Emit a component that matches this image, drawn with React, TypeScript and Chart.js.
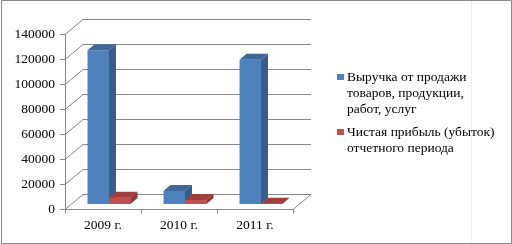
import React, { useEffect, useRef } from "react";
import { Chart, registerables } from "chart.js";

Chart.register(...registerables);

// ---- data ----
const categories = ["2009 г.", "2010 г.", "2011 г."];
const revenue = [123000, 10500, 115500];
const netProfit = [5000, 3300, 300];
const seriesNames = [
  "Выручка от продажи товаров, продукции, работ, услуг",
  "Чистая прибыль (убыток) отчетного периода",
];
const legendLines = [
  ["Выручка от продажи", "товаров, продукции,", "работ, услуг"],
  ["Чистая прибыль (убыток)", "отчетного периода"],
];
const yMin = 0;
const yMax = 140000;
const yStep = 20000;

// ---- styles ----
const FRONT = ["#4F81BD", "#C0504D"];
const SIDE = ["#385D8A", "#8C3836"];
const TOP = ["#3F6899", "#9E3F3C"];
const GRID = "#868686";
const FONT = '"Liberation Serif", "Times New Roman", serif';
const FSIZE = 13.5;

const WALL = { dx: 18, dy: -15 };
const SHIFT = { dx: 6, dy: -5 };
const DEPTH = { dx: 7, dy: -6 };

function drawFaces(ctx: any, el: any, i: number) {
  const { x, y, base, width } = el.getProps(["x", "y", "base", "width"], true);
  const l = x - width / 2;
  const r = x + width / 2;
  const t = Math.min(y, base);
  const b = Math.max(y, base);
  ctx.fillStyle = TOP[i];
  ctx.beginPath();
  ctx.moveTo(l, t);
  ctx.lineTo(r, t);
  ctx.lineTo(r + DEPTH.dx, t + DEPTH.dy);
  ctx.lineTo(l + DEPTH.dx, t + DEPTH.dy);
  ctx.closePath();
  ctx.fill();
  ctx.fillStyle = SIDE[i];
  ctx.beginPath();
  ctx.moveTo(r, t);
  ctx.lineTo(r + DEPTH.dx, t + DEPTH.dy);
  ctx.lineTo(r + DEPTH.dx, b + DEPTH.dy);
  ctx.lineTo(r, b);
  ctx.closePath();
  ctx.fill();
}

const threeD = {
  id: "threeD",
  beforeDraw(chart: any) {
    const ctx = chart.ctx;
    ctx.save();
    ctx.fillStyle = "#fff";
    ctx.fillRect(0, 0, chart.width, chart.height);
    ctx.strokeStyle = "#ffff66";
    ctx.lineWidth = 1;
    ctx.beginPath();
    ctx.moveTo(471.5, 0);
    ctx.lineTo(471.5, chart.height);
    ctx.stroke();
    ctx.strokeStyle = "#898989";
    ctx.beginPath();
    ctx.moveTo(1.5, 0.5);
    ctx.lineTo(511.5, 0.5);
    ctx.lineTo(511.5, 243.5);
    ctx.lineTo(1.5, 243.5);
    ctx.closePath();
    ctx.stroke();
    ctx.restore();
  },
  beforeDatasetsDraw(chart: any) {
    const ctx = chart.ctx;
    const { left, right, top, bottom } = chart.chartArea;
    const y = chart.scales.y;
    const x = chart.scales.x;
    ctx.save();
    ctx.strokeStyle = GRID;
    ctx.lineWidth = 1;
    y.ticks.forEach((t: any) => {
      const py = Math.round(y.getPixelForValue(t.value)) + 0.5;
      ctx.beginPath();
      ctx.moveTo(left, py);
      ctx.lineTo(left + WALL.dx, py + WALL.dy);
      ctx.lineTo(right + WALL.dx, py + WALL.dy);
      ctx.stroke();
      ctx.beginPath();
      ctx.moveTo(left - 5, py);
      ctx.lineTo(left, py);
      ctx.stroke();
    });
    const fb = Math.round(bottom) + 0.5;
    ctx.beginPath();
    ctx.moveTo(left, fb);
    ctx.lineTo(right, fb);
    ctx.lineTo(right + WALL.dx, fb + WALL.dy);
    ctx.stroke();
    ctx.beginPath();
    ctx.moveTo(left + 0.5, Math.round(top));
    ctx.lineTo(left + 0.5, fb);
    ctx.stroke();
    const n = x.ticks.length;
    const cw = (right - left) / n;
    for (let i = 0; i <= n; i++) {
      const px = Math.round(left + i * cw) + 0.5;
      ctx.beginPath();
      ctx.moveTo(px, fb);
      ctx.lineTo(px, fb + 4);
      ctx.stroke();
    }
    ctx.restore();
    ctx.save();
    ctx.translate(SHIFT.dx, SHIFT.dy);
  },
  afterDatasetsDraw(chart: any) {
    const ctx = chart.ctx;
    const metas = chart.data.datasets.map((_: any, i: number) => chart.getDatasetMeta(i));
    metas.forEach((meta: any, i: number) => {
      meta.data.forEach((el: any) => {
        if (i > 0) el.draw(ctx);
        drawFaces(ctx, el, i);
      });
    });
    ctx.restore();
  },
  afterDraw(chart: any) {
    const ctx = chart.ctx;
    ctx.save();
    ctx.font = `${FSIZE}px ${FONT}`;
    ctx.textBaseline = "middle";
    ctx.textAlign = "left";
    const starts = [77, 132];
    chart.data.datasets.forEach((ds: any, i: number) => {
      const y0 = starts[i];
      ctx.fillStyle = FRONT[i];
      ctx.fillRect(337, y0 - 3, 7, 6);
      ctx.fillStyle = "#000";
      legendLines[i].forEach((line, k) => {
        ctx.fillText(line, 347, y0 + k * 16);
      });
    });
    ctx.restore();
  },
};

export default function App() {
  const ref = useRef<HTMLCanvasElement>(null);
  useEffect(() => {
    if (!ref.current) return;
    const chart = new Chart(ref.current, {
      type: "bar",
      data: {
        labels: categories,
        datasets: [
          {
            label: seriesNames[0],
            data: revenue,
            backgroundColor: FRONT[0],
            borderWidth: 0,
            barPercentage: 1,
            categoryPercentage: 0.565,
          },
          {
            label: seriesNames[1],
            data: netProfit,
            backgroundColor: FRONT[1],
            borderWidth: 0,
            barPercentage: 1,
            categoryPercentage: 0.565,
          },
        ],
      },
      options: {
        responsive: false,
        animation: false,
        devicePixelRatio: 1,
        layout: { padding: { left: 0, right: 219, top: 34, bottom: 0 } },
        plugins: { legend: { display: false }, tooltip: { enabled: false } },
        scales: {
          x: {
            grid: { display: false, drawTicks: false },
            border: { display: false },
            ticks: { font: { family: FONT, size: FSIZE }, color: "#000", padding: 8, maxRotation: 0 },
            afterFit: (s: any) => {
              s.height = 35;
            },
          },
          y: {
            min: yMin,
            max: yMax,
            grid: { display: false, drawTicks: false },
            border: { display: false },
            ticks: {
              stepSize: yStep,
              font: { family: FONT, size: FSIZE },
              color: "#000",
              padding: 10,
              callback: (v: any) => String(v),
            },
            afterFit: (s: any) => {
              s.width = 65;
            },
          },
        },
      },
      plugins: [threeD],
    });
    return () => chart.destroy();
  }, []);
  return (
    <div style={{ position: "absolute", left: 0, top: 0, width: 512, height: 244 }}>
      <canvas ref={ref} width={512} height={244} style={{ display: "block" }} />
    </div>
  );
}
